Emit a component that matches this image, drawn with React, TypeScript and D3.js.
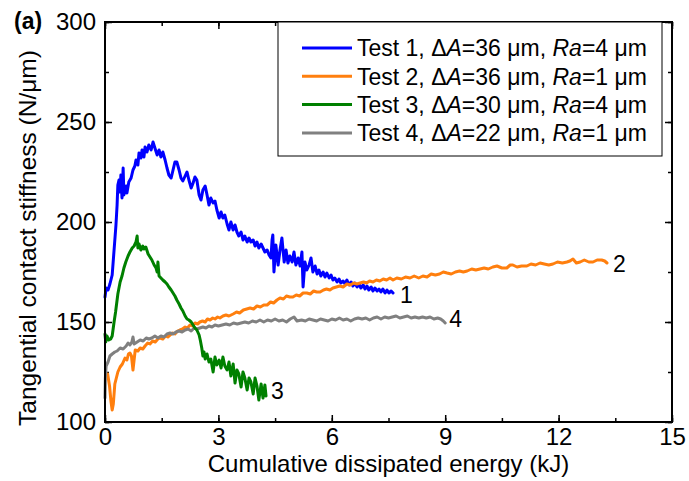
import React, { useRef, useEffect } from "react";
import * as d3 from "d3";

// Test 1: dA=36 um, Ra=4 um  [energy kJ, stiffness N/um]
const test1: [number, number][] = [
  [0.0, 162.5], [0.03, 167], [0.08, 166], [0.13, 169], [0.19, 173.5], [0.24, 186], [0.29, 198.5],
  [0.32, 208.5], [0.34, 218.5], [0.37, 221], [0.4, 215], [0.42, 223.5], [0.45, 212], [0.48, 227],
  [0.5, 213.5], [0.56, 218], [0.58, 214.5], [0.63, 220], [0.69, 222], [0.74, 226], [0.79, 228],
  [0.82, 231], [0.87, 228.5], [0.9, 234.5], [0.95, 232], [0.98, 236], [1.03, 232.5], [1.06, 237.5],
  [1.11, 235], [1.16, 238.5], [1.22, 236], [1.27, 240], [1.32, 237], [1.38, 233.5], [1.43, 236],
  [1.48, 232.5], [1.53, 235], [1.59, 231], [1.64, 227], [1.69, 223.5], [1.75, 222], [1.8, 226],
  [1.85, 230], [1.9, 230], [1.96, 226], [2.01, 222], [2.06, 220.5], [2.12, 223], [2.17, 225],
  [2.22, 221], [2.28, 217], [2.33, 219.5], [2.38, 222.5], [2.43, 221], [2.49, 213.5], [2.54, 211],
  [2.59, 216], [2.65, 218], [2.7, 213.5], [2.75, 208.5], [2.8, 212], [2.86, 209.5], [2.91, 210.5],
  [2.96, 206], [3.02, 202], [3.07, 205], [3.12, 202], [3.17, 203.5], [3.23, 199], [3.28, 196],
  [3.33, 200], [3.39, 196], [3.44, 198.5], [3.49, 195], [3.54, 193], [3.6, 195], [3.65, 191],
  [3.7, 193], [3.76, 190], [3.81, 192], [3.86, 190], [3.92, 191], [3.97, 188], [4.02, 190],
  [4.07, 187], [4.13, 189], [4.18, 187], [4.23, 185], [4.29, 186], [4.34, 183.5], [4.39, 182],
  [4.42, 191], [4.44, 193.5], [4.47, 175], [4.52, 188.5], [4.58, 178.5], [4.63, 186], [4.68, 192],
  [4.74, 180], [4.79, 186], [4.84, 179.5], [4.89, 183], [4.95, 180], [5.0, 185], [5.05, 178.5],
  [5.11, 182], [5.16, 178], [5.21, 185], [5.24, 167.5], [5.29, 180], [5.34, 176], [5.4, 178.5],
  [5.45, 182], [5.5, 175], [5.56, 178], [5.61, 174], [5.66, 176], [5.71, 173], [5.77, 175],
  [5.82, 172.5], [5.87, 174.5], [5.93, 172], [5.98, 173.5], [6.03, 171], [6.08, 172], [6.14, 170],
  [6.19, 171.5], [6.24, 169.5], [6.3, 170.5], [6.35, 169], [6.4, 171], [6.46, 168.5], [6.51, 170],
  [6.56, 168], [6.61, 169.5], [6.67, 167.5], [6.72, 169], [6.77, 167], [6.83, 168.5], [6.88, 166.5],
  [6.93, 168], [6.98, 166], [7.04, 167.5], [7.09, 165.5], [7.14, 167], [7.2, 165.5], [7.25, 166.5],
  [7.3, 165], [7.35, 166.5], [7.41, 164.5], [7.46, 166], [7.51, 164.5], [7.57, 165.5], [7.62, 164.5],
];

// Test 2: dA=36 um, Ra=1 um
const test2: [number, number][] = [
  [0.07, 124], [0.12, 118], [0.16, 110], [0.19, 106], [0.22, 109], [0.26, 119], [0.3, 122],
  [0.34, 125], [0.4, 127.5], [0.46, 129], [0.53, 132], [0.58, 131], [0.62, 134], [0.66, 134.5],
  [0.7, 133], [0.74, 126], [0.77, 131], [0.8, 136], [0.87, 135.5], [0.93, 137], [1.0, 136.5],
  [1.06, 138], [1.13, 139.5], [1.19, 139], [1.26, 140.5], [1.33, 140], [1.4, 141.5], [1.46, 142],
  [1.53, 141.5], [1.6, 143], [1.66, 142.5], [1.72, 143.5], [1.79, 144.5], [1.85, 144], [1.92, 145.5],
  [1.98, 146], [2.05, 146.5], [2.12, 147.5], [2.18, 147], [2.25, 148.5], [2.31, 148], [2.38, 149.5],
  [2.45, 149], [2.51, 150], [2.58, 150.5], [2.65, 150], [2.71, 151.5], [2.78, 151], [2.85, 152],
  [2.91, 151.5], [2.98, 152.5], [3.04, 152], [3.12, 153], [3.2, 153.5], [3.28, 153], [3.39, 154],
  [3.48, 155], [3.56, 154.5], [3.66, 156], [3.75, 156.5], [3.84, 157], [3.93, 156.5], [4.02, 158],
  [4.11, 157.5], [4.2, 158.5], [4.29, 158.5], [4.38, 160], [4.46, 159.5], [4.55, 161], [4.63, 162],
  [4.72, 161.5], [4.8, 163], [4.89, 162.5], [4.97, 162.5], [5.06, 163.5], [5.15, 163], [5.24, 164.5],
  [5.34, 164.5], [5.43, 164], [5.52, 165.5], [5.6, 165], [5.69, 165], [5.78, 166], [5.86, 166.5],
  [5.95, 166], [6.03, 167], [6.12, 167.5], [6.21, 168], [6.3, 167.5], [6.4, 169], [6.49, 168.5],
  [6.58, 169.5], [6.66, 169], [6.75, 169.5], [6.84, 170], [6.92, 169.5], [7.0, 170.5], [7.09, 170],
  [7.18, 171], [7.27, 170.5], [7.36, 171.5], [7.45, 171], [7.54, 172], [7.62, 171], [7.72, 172],
  [7.84, 171.5], [7.95, 172.5], [8.07, 172], [8.18, 173], [8.3, 172], [8.41, 173], [8.52, 172.5],
  [8.63, 174], [8.74, 173.5], [8.85, 174], [8.95, 175], [9.05, 174.5], [9.16, 174], [9.27, 175],
  [9.38, 175.5], [9.48, 175], [9.58, 175.5], [9.7, 176.5], [9.81, 176], [9.92, 176.5], [10.03, 177],
  [10.14, 176.5], [10.26, 177.5], [10.37, 178], [10.5, 177], [10.63, 177], [10.72, 178.5],
  [10.79, 178.5], [10.9, 177.5], [11.02, 178], [11.16, 178], [11.27, 179], [11.39, 178.5],
  [11.51, 179.5], [11.62, 179], [11.74, 178.5], [11.85, 179], [11.97, 180], [12.1, 179.5],
  [12.22, 180], [12.3, 180.5], [12.38, 181.5], [12.47, 179.5], [12.57, 180], [12.68, 181],
  [12.8, 180], [12.91, 180], [13.02, 181], [13.14, 181], [13.22, 180.5], [13.28, 179.5],
];

// Test 3: dA=30 um, Ra=4 um
const test3: [number, number][] = [
  [0.0, 144], [0.02, 140], [0.05, 143], [0.1, 141], [0.15, 141.5], [0.19, 143], [0.24, 150],
  [0.28, 155], [0.34, 164], [0.4, 170], [0.45, 173], [0.5, 177], [0.55, 180], [0.61, 183],
  [0.66, 185], [0.72, 187], [0.77, 188], [0.82, 190], [0.85, 193], [0.87, 187], [0.9, 189],
  [0.95, 186], [1.0, 188], [1.03, 186.5], [1.08, 187.5], [1.14, 184], [1.19, 182.5], [1.24, 181],
  [1.3, 178.5], [1.35, 177], [1.38, 175], [1.4, 180], [1.43, 173], [1.48, 172], [1.53, 171],
  [1.59, 170], [1.64, 169], [1.69, 167.5], [1.75, 166], [1.8, 164.5], [1.85, 163], [1.9, 161],
  [1.96, 159], [2.01, 157], [2.06, 155.5], [2.12, 153], [2.17, 151.5], [2.22, 151], [2.28, 150],
  [2.33, 148.5], [2.38, 147], [2.43, 146], [2.49, 143.5], [2.52, 141], [2.56, 137], [2.59, 133],
  [2.62, 135], [2.65, 131.5], [2.7, 134], [2.75, 130], [2.8, 131.5], [2.86, 125], [2.91, 132.5],
  [2.96, 128.5], [3.02, 131], [3.07, 127], [3.12, 132.5], [3.17, 128], [3.23, 126], [3.28, 130],
  [3.33, 123], [3.39, 129], [3.44, 119.5], [3.49, 126], [3.54, 124], [3.6, 117.5], [3.65, 125],
  [3.7, 122], [3.76, 116], [3.81, 122], [3.86, 120], [3.92, 114], [3.97, 122], [4.02, 118],
  [4.07, 111], [4.13, 119], [4.18, 112], [4.23, 118.5], [4.26, 113],
];

// Test 4: dA=22 um, Ra=1 um
const test4: [number, number][] = [
  [0.0, 112], [0.01, 122], [0.03, 128], [0.08, 130], [0.13, 133], [0.19, 134], [0.26, 135],
  [0.32, 135.5], [0.4, 137], [0.48, 136.5], [0.56, 138], [0.61, 139.5], [0.66, 138.5], [0.71, 140],
  [0.74, 142.5], [0.77, 139], [0.85, 140], [0.93, 141], [1.01, 140.5], [1.09, 142], [1.16, 141.5],
  [1.24, 142], [1.32, 143], [1.4, 142], [1.48, 143], [1.56, 142.5], [1.64, 144], [1.72, 144.5],
  [1.8, 144], [1.88, 145], [1.96, 145.5], [2.04, 145], [2.12, 146], [2.2, 146.5], [2.28, 145.5],
  [2.36, 147], [2.43, 146.5], [2.51, 147], [2.59, 147.5], [2.67, 147], [2.75, 148], [2.83, 147.5],
  [2.91, 148.5], [3.0, 148], [3.1, 148.5], [3.2, 149], [3.3, 148.5], [3.4, 149.5], [3.5, 149],
  [3.6, 149.5], [3.7, 150], [3.8, 149.5], [3.9, 150.5], [4.0, 150], [4.1, 151], [4.2, 150],
  [4.3, 151], [4.4, 150.5], [4.5, 151.5], [4.6, 150.5], [4.7, 151], [4.8, 150], [4.9, 151.5],
  [5.0, 152.5], [5.08, 150.5], [5.2, 151], [5.3, 150.5], [5.4, 151.5], [5.5, 151], [5.6, 150.5],
  [5.7, 151.5], [5.8, 151], [5.9, 150.5], [6.0, 151.5], [6.1, 151], [6.2, 152], [6.3, 151],
  [6.4, 151.5], [6.5, 150.5], [6.6, 151.5], [6.7, 152], [6.8, 151.5], [6.9, 152], [7.0, 151],
  [7.1, 152], [7.2, 152.5], [7.3, 151.5], [7.4, 152.5], [7.5, 152], [7.6, 152.5], [7.7, 153],
  [7.8, 152], [7.9, 152.5], [8.0, 153], [8.1, 152], [8.2, 152.5], [8.3, 152], [8.4, 152.5],
  [8.5, 152], [8.6, 152.5], [8.7, 151.5], [8.8, 152], [8.88, 151.5], [8.95, 150.5], [9.0, 149.5],
];

const testNames = ["1", "2", "3", "4"];
const deltaA = ["36", "36", "30", "22"];
const roughness = ["4", "1", "4", "1"];
const xTicks = [0, 3, 6, 9, 12, 15];
const yTicks = [100, 150, 200, 250, 300];

const colors = ["#0000ff", "#ff7f0e", "#008000", "#808080"];
const FONT = "'Liberation Sans', Arial, sans-serif";

const Chart = () => {
  const ref = useRef<HTMLDivElement>(null);

  const draw = (elt: HTMLDivElement) => {
    const W = 689, H = 481;
    const left = 105, right = 672, top = 22, bottom = 422;

    d3.select(elt).select("svg").remove();
    const svg = d3.select(elt).append("svg")
      .attr("width", W).attr("height", H)
      .style("display", "block")
      .style("font-family", FONT);

    const x = d3.scaleLinear().domain([0, 15]).range([left, right]);
    const y = d3.scaleLinear().domain([100, 300]).range([bottom, top]);

    const minorX = d3.range(0, 15.01, 1.5);
    const minorY = d3.range(100, 300.01, 25);

    const styleAxis = (g: any) => {
      g.select(".domain").remove();
      g.selectAll("line").attr("stroke", "#000").attr("stroke-width", 1.5);
      g.selectAll("text").attr("font-family", FONT).attr("font-size", 24).attr("fill", "#000");
    };

    // minor ticks
    svg.append("g").attr("transform", `translate(0,${bottom})`)
      .call(d3.axisBottom(x).tickValues(minorX).tickSize(-4).tickFormat(() => "")).call(styleAxis);
    svg.append("g").attr("transform", `translate(0,${top})`)
      .call(d3.axisTop(x).tickValues(minorX).tickSize(-4).tickFormat(() => "")).call(styleAxis);
    svg.append("g").attr("transform", `translate(${left},0)`)
      .call(d3.axisLeft(y).tickValues(minorY).tickSize(-4).tickFormat(() => "")).call(styleAxis);
    svg.append("g").attr("transform", `translate(${right},0)`)
      .call(d3.axisRight(y).tickValues(minorY).tickSize(-4).tickFormat(() => "")).call(styleAxis);

    // major ticks
    svg.append("g").attr("transform", `translate(0,${bottom})`)
      .call(d3.axisBottom(x).tickValues(xTicks).tickSize(-7).tickPadding(6).tickFormat(d3.format("d")))
      .call(styleAxis);
    svg.append("g").attr("transform", `translate(0,${top})`)
      .call(d3.axisTop(x).tickValues(xTicks).tickSize(-7).tickFormat(() => "")).call(styleAxis);
    svg.append("g").attr("transform", `translate(${left},0)`)
      .call(d3.axisLeft(y).tickValues(yTicks).tickSize(-7).tickPadding(9).tickFormat(d3.format("d")))
      .call(styleAxis);
    svg.append("g").attr("transform", `translate(${right},0)`)
      .call(d3.axisRight(y).tickValues(yTicks).tickSize(-7).tickFormat(() => "")).call(styleAxis);

    // curves
    const line = d3.line<[number, number]>().x(d => x(d[0])).y(d => y(d[1]));
    const series = [test1, test2, test3, test4];
    const order = [0, 1, 3, 2];
    order.forEach(i => {
      svg.append("path").datum(series[i])
        .attr("d", line).attr("fill", "none")
        .attr("stroke", colors[i]).attr("stroke-width", 3)
        .attr("stroke-linejoin", "round").attr("stroke-linecap", "round");
    });

    // end labels
    const labelOffsets: [number, number][] = [[7, 10], [6, 9], [5, 3], [4, 4]];
    series.forEach((s, i) => {
      const last = s[s.length - 1];
      svg.append("text")
        .attr("x", x(last[0]) + labelOffsets[i][0])
        .attr("y", y(last[1]) + labelOffsets[i][1])
        .attr("font-size", 23).attr("fill", "#000").text(testNames[i]);
    });

    // frame
    svg.append("rect").attr("x", left).attr("y", top)
      .attr("width", right - left).attr("height", bottom - top)
      .attr("fill", "none").attr("stroke", "#000").attr("stroke-width", 2);

    // legend
    const lg = svg.append("g");
    lg.append("rect").attr("x", 278).attr("y", top).attr("width", 384).attr("height", 134)
      .attr("fill", "#fff").attr("stroke", "#000").attr("stroke-width", 1);
    testNames.forEach((n, i) => {
      const cy = 48 + i * 28.3;
      lg.append("line").attr("x1", 302).attr("x2", 352).attr("y1", cy).attr("y2", cy)
        .attr("stroke", colors[i]).attr("stroke-width", 3);
      const t = lg.append("text").attr("x", 357).attr("y", cy).attr("dy", "0.36em")
        .attr("font-size", 23).attr("fill", "#000");
      t.append("tspan").text(`Test ${n}, \u0394`);
      t.append("tspan").attr("font-style", "italic").text("A");
      t.append("tspan").text(`=${deltaA[i]} \u03bcm, `);
      t.append("tspan").attr("font-style", "italic").text("Ra");
      t.append("tspan").text(`=${roughness[i]} \u03bcm`);
    });

    // axis titles
    svg.append("text").attr("x", (left + right) / 2).attr("y", 472)
      .attr("text-anchor", "middle").attr("font-size", 24).text("Cumulative dissipated energy (kJ)");
    svg.append("text").attr("transform", `translate(36,${(top + bottom) / 2 + 16}) rotate(-90)`)
      .attr("text-anchor", "middle").attr("font-size", 24.5).text("Tangential contact stiffness (N/\u03bcm)");

    svg.append("text").attr("x", 14).attr("y", 29).attr("font-size", 23).attr("font-weight", "bold")
      .text("(a)");
  };

  useEffect(() => {
    if (ref.current) draw(ref.current);
  }, []);

  return <div ref={ref} style={{ position: "absolute", left: 0, top: 0, width: 689, height: 481 }}></div>;
};

export default function App() {
  return <Chart />;
}
